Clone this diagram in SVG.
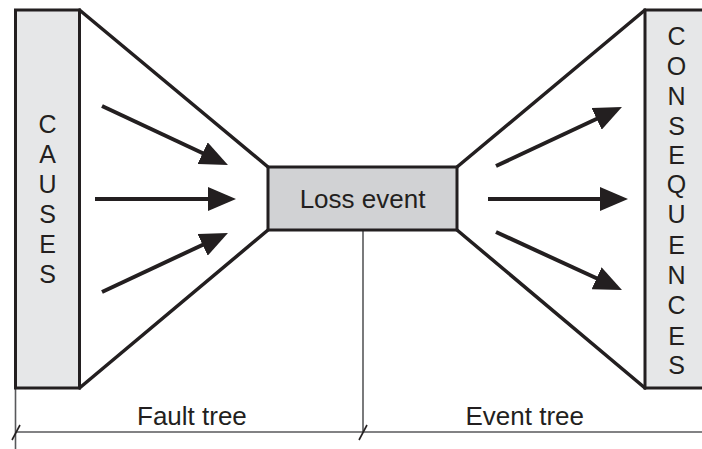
<svg xmlns="http://www.w3.org/2000/svg" width="702" height="449" viewBox="0 0 702 449">
  <style>
    .box { fill: #e6e7e8; stroke: #231f20; stroke-width: 3; }
    .core { fill: #d1d2d4; stroke: #231f20; stroke-width: 3; }
    .funnel { fill: none; stroke: #231f20; stroke-width: 3.5; stroke-linecap: round; }
    .arrow { fill: none; stroke: #231f20; stroke-width: 4; marker-end: url(#head); }
    .dim { fill: none; stroke: #58595b; stroke-width: 1.6; }
    .tick { fill: none; stroke: #231f20; stroke-width: 1.6; }
    .lbl { font-family: "Liberation Sans", Arial, sans-serif; font-size: 26px; fill: #231f20; }
    .vlbl { font-family: "Liberation Sans", Arial, sans-serif; font-size: 25px; fill: #231f20; text-anchor: middle; }
  </style>
  <defs>
    <marker id="head" markerUnits="userSpaceOnUse" markerWidth="28" markerHeight="24" viewBox="0 0 28 24" refX="18" refY="12" orient="auto">
      <path d="M0,0 L28,12 L0,24 z" fill="#231f20"/>
    </marker>
  </defs>

  <rect width="702" height="449" fill="#ffffff"/>

  <g id="connectors">
    <line class="funnel" x1="79.5" y1="10" x2="268" y2="167"/>
    <line class="funnel" x1="79.5" y1="388" x2="268" y2="230"/>
    <line class="funnel" x1="457" y1="167" x2="645" y2="10"/>
    <line class="funnel" x1="457" y1="230" x2="645" y2="388"/>

    <line class="arrow" x1="102" y1="106" x2="218.9" y2="160.8"/>
    <line class="arrow" x1="95" y1="199" x2="226" y2="199"/>
    <line class="arrow" x1="102" y1="292" x2="218.9" y2="237.2"/>

    <line class="arrow" x1="496" y1="166" x2="612.9" y2="111.2"/>
    <line class="arrow" x1="488" y1="199" x2="618" y2="199"/>
    <line class="arrow" x1="496" y1="232" x2="612.9" y2="285.8"/>

    <line class="dim" x1="15.5" y1="388" x2="15.5" y2="449"/>
    <line class="dim" x1="363" y1="231" x2="363" y2="432"/>
    <line class="dim" x1="15.5" y1="432" x2="702" y2="432"/>
    <line class="tick" x1="12" y1="440" x2="20" y2="425"/>
    <line class="tick" x1="359" y1="440" x2="367" y2="425"/>
  </g>

  <g id="causes">
    <rect class="box" x="15.5" y="10" width="64" height="378"/>
    <text class="vlbl" x="47.5" y="133">C</text>
    <text class="vlbl" x="47.5" y="163">A</text>
    <text class="vlbl" x="47.5" y="193">U</text>
    <text class="vlbl" x="47.5" y="223">S</text>
    <text class="vlbl" x="47.5" y="253">E</text>
    <text class="vlbl" x="47.5" y="283">S</text>
  </g>

  <g id="loss-event">
    <rect class="core" x="268" y="167" width="189" height="63"/>
    <text class="lbl" x="362.5" y="208" text-anchor="middle">Loss event</text>
  </g>

  <g id="consequences">
    <rect class="box" x="645" y="10" width="70" height="378"/>
    <text class="vlbl" x="676.5" y="45">C</text>
    <text class="vlbl" x="676.5" y="75">O</text>
    <text class="vlbl" x="676.5" y="105">N</text>
    <text class="vlbl" x="676.5" y="135">S</text>
    <text class="vlbl" x="676.5" y="164">E</text>
    <text class="vlbl" x="676.5" y="193">Q</text>
    <text class="vlbl" x="676.5" y="223">U</text>
    <text class="vlbl" x="676.5" y="254">E</text>
    <text class="vlbl" x="676.5" y="284">N</text>
    <text class="vlbl" x="676.5" y="314">C</text>
    <text class="vlbl" x="676.5" y="345">E</text>
    <text class="vlbl" x="676.5" y="374">S</text>
  </g>

  <g id="fault-tree-label">
    <text class="lbl" x="137" y="425">Fault tree</text>
  </g>

  <g id="event-tree-label">
    <text class="lbl" x="465.5" y="425">Event tree</text>
  </g>
</svg>
